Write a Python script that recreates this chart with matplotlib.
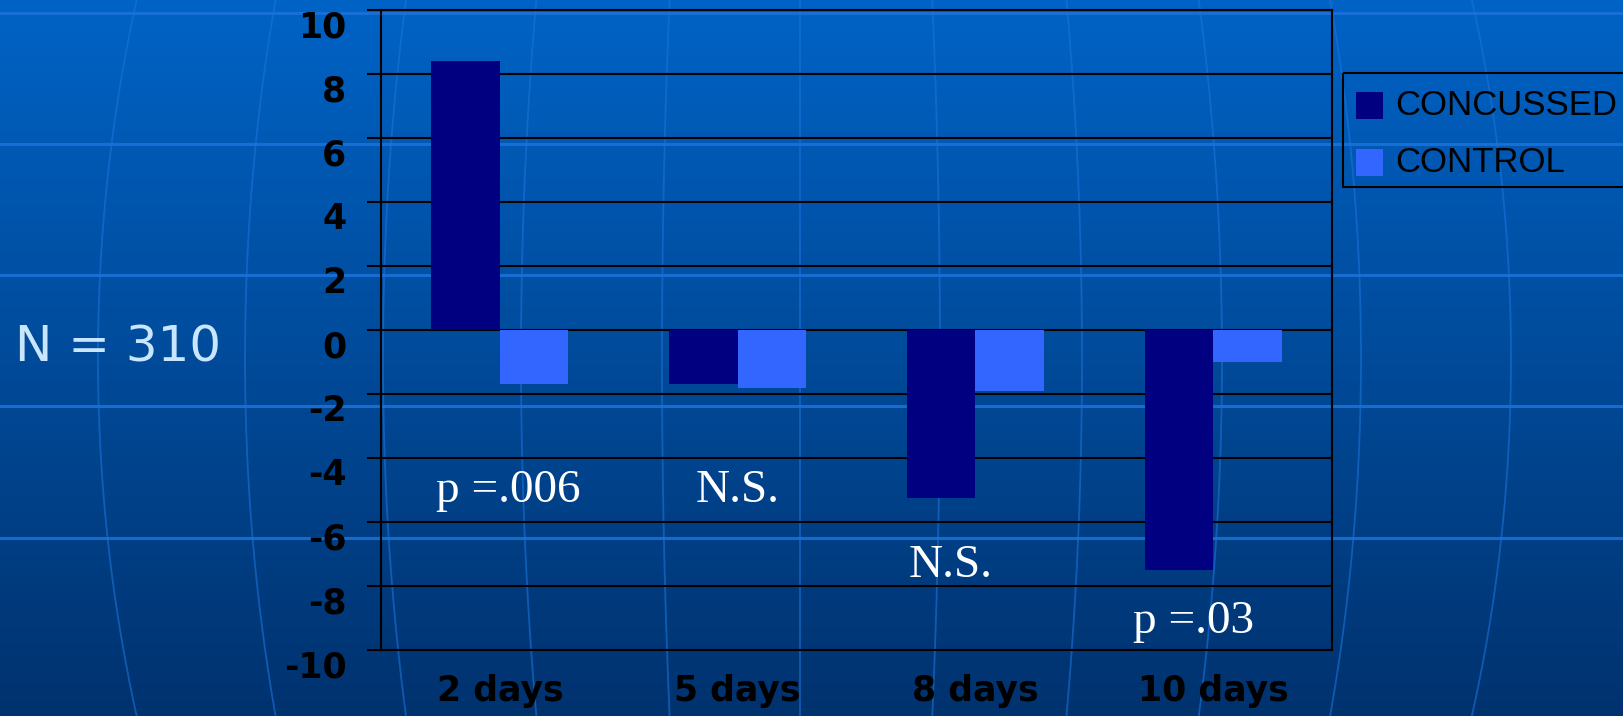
import numpy as np
import matplotlib
matplotlib.use("Agg")
import matplotlib.pyplot as plt
from matplotlib.patches import Rectangle

plt.rcParams["axes.unicode_minus"] = False

# ---- data ----
categories = ["2 days", "5 days", "8 days", "10 days"]
concussed = [8.4, -1.7, -5.25, -7.5]
control = [-1.7, -1.8, -1.9, -1.0]
series_names = ["CONCUSSED", "CONTROL"]
sig_labels = ["p =.006", "N.S.", "N.S.", "p =.03"]
y_ticks = list(range(-10, 11, 2))
sample_note = "N = 310"

COL_CONC = "#000080"
COL_CTRL = "#3366FF"

W, H = 1623, 716
fig = plt.figure(figsize=(W / 100, H / 100), dpi=100)

# ---- slide background: vertical gradient with globe-like grid ----
bg = fig.add_axes([0, 0, 1, 1], zorder=0)
bg.set_xlim(0, W)
bg.set_ylim(H, 0)
bg.axis("off")
top_c = np.array([0, 99, 198]) / 255
bot_c = np.array([0, 50, 110]) / 255
t = np.linspace(0, 1, H)[:, None, None]
grad = top_c[None, None, :] * (1 - t) + bot_c[None, None, :] * t
bg.imshow(grad, extent=(0, W, H, 0), aspect="auto", zorder=0)

line_c = (0.10, 0.45, 0.86)
for yy in [13, 144, 275, 406, 538]:
    bg.axhline(yy, color=line_c, lw=2.2, alpha=0.85, zorder=1)

cx, cy, R = 800, 358, 1094
ys = np.linspace(0, H, 200)
shrink = np.sqrt(1 - ((ys - cy) / R) ** 2)
for xe in [98, 245, 383, 521, 662, 800, 940, 1082, 1222, 1361, 1511]:
    bg.plot(cx + (xe - cx) * shrink, ys, color=line_c, lw=1.3, alpha=0.6, zorder=1)

# legend box drawn in slide pixel space, right of the plot
bg.add_patch(Rectangle((1343, 73), 400, 114, fill=False, ec="black", lw=1.5, zorder=3))
for i, (name, col) in enumerate(zip(series_names, [COL_CONC, COL_CTRL])):
    yc = 105.5 + i * 56.5
    bg.add_patch(Rectangle((1356, yc - 13.5), 27, 27, fc=col, ec="none", zorder=3))
    bg.text(1395, yc, name, ha="left", va="center", color="black",
            fontsize=25, family="Liberation Sans", zorder=3)

# ---- chart ----
ax = fig.add_axes([381 / W, 66 / H, 951 / W, 640 / H], zorder=2)
ax.patch.set_visible(False)

x = np.arange(len(categories))
bw = 0.288
ax.bar(x - bw / 2, concussed, bw, color=COL_CONC, label=series_names[0], zorder=3)
ax.bar(x + bw / 2, control, bw, color=COL_CTRL, label=series_names[1], zorder=3)

ax.set_xlim(-0.5, len(categories) - 0.5)
ax.set_ylim(-10, 10)
ax.set_yticks(y_ticks)
ax.yaxis.grid(True, color="black", lw=1.5, zorder=1)
ax.set_axisbelow(True)
for s in ax.spines.values():
    s.set_color("black")
    s.set_linewidth(1.5)

ax.tick_params(axis="y", length=10, width=1.5, pad=15, direction="out",
               colors="black", labelsize=25)
for lbl in ax.get_yticklabels():
    lbl.set_fontweight("bold")
    lbl.set_family("DejaVu Sans")
    lbl.set_va("top")

ax.set_xticks(x)
ax.set_xticklabels(categories)
ax.tick_params(axis="x", length=0, pad=17, labelsize=25, colors="black")
for lbl in ax.get_xticklabels():
    lbl.set_fontweight("bold")
    lbl.set_family("DejaVu Sans")

# significance notes under each group
note_dx = [0.034, 0.0, -0.105, -0.084]
note_y = [-5.375, -5.375, -7.72, -9.47]
for i, lab in enumerate(sig_labels):
    ax.text(x[i] + note_dx[i], note_y[i], lab, ha="center", va="baseline",
            color="white", fontsize=34, family="Liberation Serif", zorder=4)

fig.text(15 / W, 1 - 347 / H, sample_note, ha="left", va="center",
         color="#c8e6ff", fontsize=36, family="DejaVu Sans")

fig.savefig("out.png", dpi=100)
